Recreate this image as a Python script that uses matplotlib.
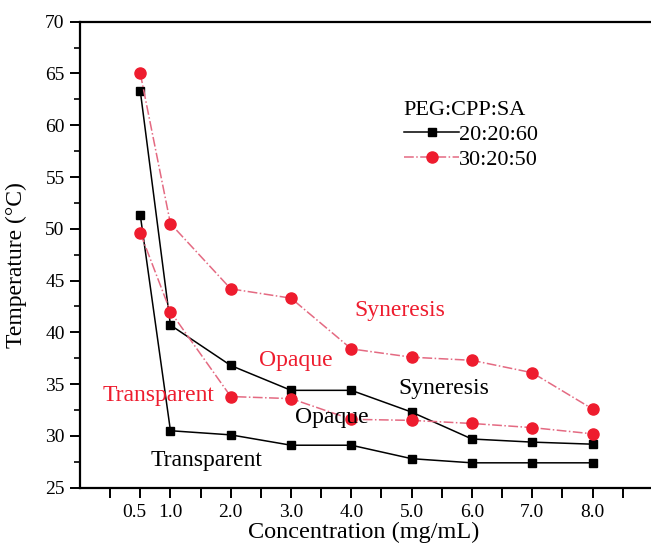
import matplotlib
matplotlib.use('Agg')
from matplotlib import pyplot as plt
import matplotlib.transforms as mtransforms

plt.rcParams['font.family'] = ['Liberation Serif', 'DejaVu Serif']

conc = [0.5, 1, 2, 3, 4, 5, 6, 7, 8]
# 20:20:60 boundaries
black_upper = [63.3, 40.7, 36.8, 34.4, 34.4, 32.3, 29.7, 29.4, 29.2]
black_lower = [51.3, 30.5, 30.1, 29.1, 29.1, 27.8, 27.4, 27.4, 27.4]
# 30:20:50 boundaries
red_upper = [65.0, 50.5, 44.2, 43.3, 38.4, 37.6, 37.3, 36.1, 32.6]
red_lower = [49.6, 42.0, 33.8, 33.6, 31.6, 31.5, 31.2, 30.8, 30.2]

xtick_pos = [0, 0.5, 1, 1.5, 2, 2.5, 3, 3.5, 4, 4.5, 5, 5.5, 6, 6.5, 7, 7.5, 8, 8.5]
xtick_lab = ['', '0.5', '1.0', '', '2.0', '', '3.0', '', '4.0', '', '5.0', '', '6.0', '', '7.0', '', '8.0', '']

RED = '#ee1c2e'
RED_LINE = '#e46a82'

fig = plt.figure(figsize=(6.51, 5.49), dpi=100)
ax = fig.add_axes([0.1229, 0.1117, 0.8771, 0.8488])

ax.plot(conc, black_upper, '-', color='black', lw=1.1, marker='s', ms=6.2, label='20:20:60')
ax.plot(conc, black_lower, '-', color='black', lw=1.1, marker='s', ms=6.2)
ax.plot(conc, red_upper, '-.', color=RED_LINE, lw=1.1, marker='o', ms=8, mfc=RED, mec=RED, label='30:20:50')
ax.plot(conc, red_lower, '-.', color=RED_LINE, lw=1.1, marker='o', ms=8, mfc=RED, mec=RED)

ax.set_xlim(-0.5, 8.97)
ax.set_ylim(25, 70)
ax.set_xticks(xtick_pos)
ax.set_xticklabels(xtick_lab)
ax.set_yticks(range(25, 71, 5))
ax.set_yticks([27.5 + 5 * i for i in range(9)], minor=True)
ax.tick_params(axis='both', which='major', direction='out', length=7, width=1.4, labelsize=14)
ax.tick_params(axis='y', which='minor', direction='out', length=4, width=1.2)
ax.tick_params(axis='x', which='major', pad=5)
ax.tick_params(axis='y', which='major', pad=4)
for s in ['left', 'bottom', 'top']:
    ax.spines[s].set_linewidth(1.6)
ax.spines['right'].set_visible(False)

# the 0.5 label sits a little left of its tick
lbl = ax.get_xticklabels()[1]
lbl.set_transform(lbl.get_transform() + mtransforms.ScaledTranslation(-6 / 100, 0, fig.dpi_scale_trans))

ax.set_xlabel('Concentration (mg/mL)', fontsize=17.5)
ax.xaxis.set_label_coords(0.496, -0.074)
ax.set_ylabel('Temperature (°C)', fontsize=17)
ax.yaxis.set_label_coords(-0.093, 0.478)

ax.text(4.81, 42.1, 'Syneresis', color=RED, fontsize=17, ha='center', va='center')
ax.text(3.08, 37.25, 'Opaque', color=RED, fontsize=17, ha='center', va='center')
ax.text(0.81, 33.9, 'Transparent', color=RED, fontsize=17, ha='center', va='center')
ax.text(5.54, 34.6, 'Syneresis', color='black', fontsize=17, ha='center', va='center')
ax.text(3.68, 31.75, 'Opaque', color='black', fontsize=17, ha='center', va='center')
ax.text(1.59, 27.6, 'Transparent', color='black', fontsize=17, ha='center', va='center')

leg = ax.legend(loc='upper left', bbox_to_anchor=(0.567, 0.83), frameon=False, fontsize=16,
                title='PEG:CPP:SA', title_fontsize=16, handlelength=2.5, handletextpad=0.0,
                borderpad=0, borderaxespad=0, labelspacing=0.2, alignment='left')

fig.savefig('out.png', dpi=100)
